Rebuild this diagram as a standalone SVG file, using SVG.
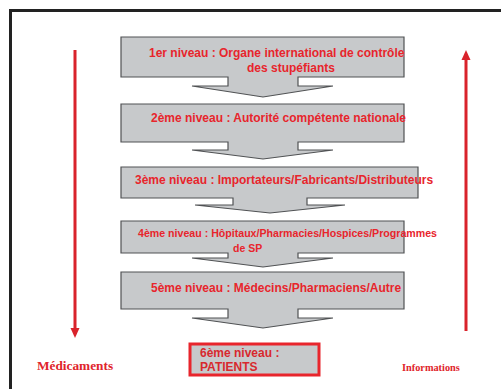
<svg xmlns="http://www.w3.org/2000/svg" width="501" height="389" viewBox="0 0 501 389">
<style>
.lvl{fill:#c7c9cb;stroke:#505254;stroke-width:1.2;stroke-linejoin:miter}
.t{font-family:"Liberation Sans",Arial,sans-serif;font-weight:bold;font-size:12px;fill:#e8252c}
.side{font-family:"Liberation Serif","Times New Roman",serif;font-weight:bold;fill:#e0242b}
.flow{stroke:#d9232b;stroke-width:3;fill:none}
</style>
<rect x="0" y="0" width="501" height="389" fill="#ffffff"/>
<rect x="10.5" y="10.5" width="600" height="500" fill="none" stroke="#222" stroke-width="3"/>
<g id="connectors">
<line class="flow" x1="75" y1="50" x2="75" y2="329"/>
<polygon points="70.5,328 79.5,328 75,338" fill="#d9232b"/>
<line class="flow" x1="466" y1="59" x2="466" y2="331"/>
<polygon points="461.5,60 470.5,60 466,50" fill="#d9232b"/>
</g>
<g id="level1">
<path class="lvl" d="M121,37 H404 V77 H298 V86 H333 L263,97 L192,86 H228 V77 H121 Z"/>
<text class="t" x="149" y="57">1er niveau : Organe international de contrôle</text>
<text class="t" x="247" y="72">des stupéfiants</text>
</g>
<g id="level2">
<path class="lvl" d="M121,104 H404 V142 H298 V150 H333 L263,159 L192,150 H228 V142 H121 Z"/>
<text class="t" x="151" y="122">2ème niveau : Autorité compétente nationale</text>
</g>
<g id="level3">
<path class="lvl" d="M121,167 H418 V198 H307 V205 H345 L270,213 L195,205 H233 V198 H121 Z"/>
<text class="t" x="135" y="184">3ème niveau : Importateurs/Fabricants/Distributeurs</text>
</g>
<g id="level4">
<path class="lvl" d="M121,221 H404 V253 H298 V258 H333 L263,267 L192,258 H228 V253 H121 Z"/>
<text class="t" x="138" y="237" style="font-size:10px" textLength="299" lengthAdjust="spacingAndGlyphs">4ème niveau : Hôpitaux/Pharmacies/Hospices/Programmes</text>
<text class="t" x="233" y="252" style="font-size:10.5px">de SP</text>
</g>
<g id="level5">
<path class="lvl" d="M121,272 H404 V309 H298 V318 H333 L263,328 L192,318 H228 V309 H121 Z"/>
<text class="t" x="151" y="292">5ème niveau : Médecins/Pharmaciens/Autre</text>
</g>
<g id="level6">
<rect x="190" y="344" width="129" height="31" fill="#c7c9cb" stroke="#e8252c" stroke-width="3"/>
<text class="t" x="200" y="357" style="fill:#d8292e">6ème niveau :</text>
<text class="t" x="200" y="371" style="fill:#d8292e">PATIENTS</text>
</g>
<g id="labels">
<text class="side" x="37" y="370" style="font-size:13.3px">Médicaments</text>
<text class="side" x="402" y="371" style="font-size:10.3px">Informations</text>
</g>
</svg>
